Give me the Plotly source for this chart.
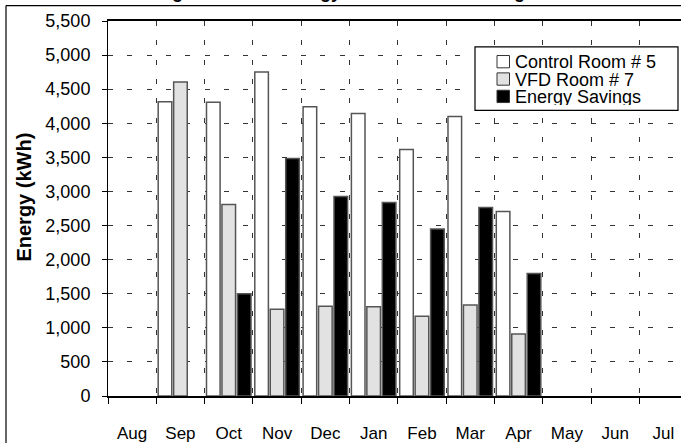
import plotly.graph_objects as go

# ---------------- data ----------------
months = ["Aug", "Sep", "Oct", "Nov", "Dec", "Jan", "Feb", "Mar", "Apr", "May", "Jun", "Jul"]
control_room5 = [None, 4315, 4307, 4752, 4243, 4145, 3617, 4099, 2706, None, None, None]
vfd_room7 = [None, 4607, 2810, 1272, 1315, 1308, 1168, 1334, 908, None, None, None]
energy_savings = [None, None, 1500, 3482, 2926, 2837, 2449, 2765, 1798, None, None, None]
series_names = ["Control Room # 5", "VFD Room # 7", "Energy Savings"]
y_tick_values = list(range(0, 5501, 500))
title_text = "Cooling Fan Motor Energy Use and Cost Savings"
y_title = "Energy (kWh)"

# ---------------- styling / geometry ----------------
W, H = 681, 443
PL, PT, PB = 108, 21, 44
PW, PH = W - PL, H - PT - PB
CAT_W = 48.3
FONT = "Liberation Sans, Arial, Helvetica, sans-serif"
fills = ["#ffffff", "#e2e2e2", "#000000"]
outline = "#555555"


def px(x):
    return (x - PL) / PW


def py(y):
    return (PT + PH - y) / PH


fig = go.Figure()
for name, vals, col in zip(series_names, [control_room5, vfd_room7, energy_savings], fills):
    fig.add_trace(go.Bar(
        x=months, y=vals, name=name,
        marker=dict(color=col, line=dict(color=outline, width=1.5)),
        showlegend=False,
    ))

grid_dash = "5px,14.3px"
fig.update_layout(
    width=W, height=H,
    margin=dict(l=PL, r=0, t=PT, b=PB, pad=0),
    paper_bgcolor="white", plot_bgcolor="white",
    barmode="group", bargap=0.04, bargroupgap=0.12,
    font=dict(family=FONT, color="black", size=17),
    xaxis=dict(
        type="category", categoryorder="array", categoryarray=months,
        range=[-0.5, -0.5 + PW / CAT_W],
        tickson="boundaries", ticks="outside", ticklen=6, tickcolor="black",
        showline=True, linecolor="black", linewidth=1.5, mirror=True,
        showgrid=True, gridcolor="#333333", gridwidth=1, griddash=grid_dash,
        tickfont=dict(size=17, family=FONT), ticklabelstandoff=21,
        zeroline=False,
    ),
    yaxis=dict(
        range=[0, 5500], tickvals=y_tick_values, tickformat=",",
        ticks="outside", ticklen=5, tickcolor="black",
        showline=True, linecolor="black", linewidth=1,
        showgrid=True, gridcolor="#333333", gridwidth=1, griddash=grid_dash,
        tickfont=dict(size=18, family=FONT), ticklabelstandoff=8,
        zeroline=False,
    ),
    yaxis2=dict(
        overlaying="y", side="left", anchor="x", range=[0, 5500],
        tickvals=y_tick_values, ticks="inside", ticklen=5, tickcolor="black",
        showticklabels=False, showgrid=False, showline=False, zeroline=False,
    ),
)

shapes = []
annotations = []
# outer chart frame: only its left and top edges fall inside the window
shapes.append(dict(type="line", xref="paper", yref="paper",
                   x0=px(6), x1=px(6), y0=py(460), y1=py(5.5),
                   line=dict(color="black", width=1.2)))
shapes.append(dict(type="line", xref="paper", yref="paper",
                   x0=px(6), x1=px(700), y0=py(5.5), y1=py(5.5),
                   line=dict(color="black", width=1.2)))
# legend box
shapes.append(dict(type="rect", xref="paper", yref="paper",
                   x0=px(475), x1=px(678), y0=py(111), y1=py(47),
                   line=dict(color="black", width=1.2), fillcolor="white", layer="above"))
row_y = [62, 79.5, 97]
for name, col, ry in zip(series_names, fills, row_y):
    shapes.append(dict(type="rect", xref="paper", yref="paper",
                       x0=px(497), x1=px(509.5), y0=py(ry + 6.2), y1=py(ry - 6.2),
                       line=dict(color="#333333", width=1), fillcolor=col, layer="above"))
    annotations.append(dict(xref="paper", yref="paper", x=px(514), y=py(ry),
                            xanchor="left", yanchor="middle", showarrow=False,
                            height=17, valign="middle", borderpad=0,
                            text=name, font=dict(size=18, family=FONT, color="black")))

# y-axis title
annotations.append(dict(xref="paper", yref="paper", x=px(24), y=py(199),
                        xanchor="center", yanchor="middle", showarrow=False,
                        textangle=-90, text="<b>" + y_title + "</b>",
                        font=dict(size=20, family=FONT, color="black")))
# chart title (cut off at the top of the window)
annotations.append(dict(xref="paper", yref="paper", x=px(114), y=py(3.5),
                        xanchor="left", yanchor="bottom", showarrow=False,
                        text="<b>" + title_text + "</b>",
                        font=dict(size=18, family=FONT, color="black")))

fig.update_layout(shapes=shapes, annotations=annotations)
fig.write_html(
    "out.html",
    config={"displayModeBar": False},
    post_script="document.body.style.margin='0';document.body.style.overflow='hidden';",
)
